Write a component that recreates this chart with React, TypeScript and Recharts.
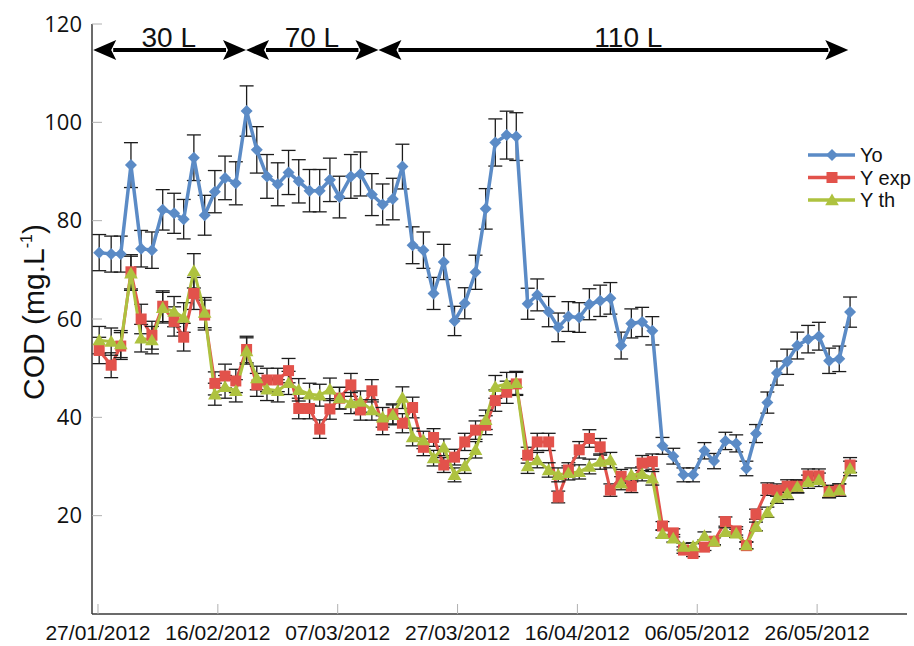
import React from 'react';
import { LineChart, Line, XAxis, YAxis, ErrorBar, ReferenceLine, Legend } from 'recharts';

// Sampling position of each point, in days after 27/01/2012
const sampleDays = [
  0.2, 2.2, 3.8, 5.5, 7.2, 9.0, 10.8, 12.7, 14.3, 16.0, 17.8, 19.5, 21.2, 23.0, 24.8, 26.5,
  28.2, 30.0, 31.8, 33.5, 35.3, 37.0, 38.7, 40.3, 42.2, 43.8, 45.7, 47.5, 49.2, 50.8, 52.5,
  54.3, 56.0, 57.7, 59.5, 61.2, 63.0, 64.7, 66.3, 68.2, 69.8, 71.7, 73.3, 75.2, 76.8, 78.5,
  80.3, 82.0, 83.8, 85.5, 87.3, 89.0, 90.8, 92.5, 94.2, 96.0, 97.7, 99.3, 101.2, 102.8, 104.7,
  106.5, 108.2, 109.8, 111.7, 113.3, 115.0, 116.7, 118.5, 120.3, 122.0, 123.7, 125.5,
];

const yoValues = [
  73.5, 73.2, 73.2, 91.3, 74.3, 74.0, 82.2, 81.5, 80.3, 92.8, 81.1, 85.9, 88.7, 87.6, 102.3, 94.4,
  89.0, 87.4, 89.8, 88.0, 86.1, 86.1, 88.3, 84.8, 89.0, 89.5, 85.3, 83.3, 84.4, 91.0, 75.0,
  74.0, 65.2, 71.6, 59.6, 63.2, 69.5, 82.4, 95.9, 97.4, 97.1, 63.1, 64.9, 61.5, 58.3, 60.5,
  60.3, 63.0, 63.7, 64.2, 54.6, 59.1, 59.4, 57.6, 34.2, 32.1, 28.3, 28.3, 33.2, 31.1, 35.2,
  34.7, 29.6, 36.7, 43.0, 49.0, 51.3, 54.6, 55.9, 56.5, 51.5, 51.9, 61.4,
];

const yExpValues = [
  53.6, 50.6, 54.5, 69.6, 60.0, 56.7, 62.6, 59.5, 56.3, 65.2, 60.8, 46.9, 48.4, 47.4, 53.8, 46.6,
  47.6, 47.6, 49.5, 41.8, 41.8, 37.6, 41.7, 43.9, 46.6, 41.5, 45.4, 38.4, 40.7, 38.8, 42.0,
  33.9, 35.9, 30.3, 31.9, 35.0, 37.4, 38.4, 43.4, 45.1, 46.8, 32.3, 35.0, 35.0, 23.8, 29.3,
  33.4, 35.7, 34.0, 25.2, 28.0, 26.0, 30.7, 31.0, 17.9, 16.5, 13.0, 12.3, 13.6, 14.8, 18.8,
  16.9, 13.9, 20.3, 25.4, 25.2, 26.0, 26.0, 28.1, 28.1, 24.9, 25.2, 30.3,
];

const yThValues = [
  55.7, 55.4, 54.9, 69.3, 56.1, 55.7, 62.3, 61.5, 60.3, 69.8, 61.3, 44.7, 46.2, 45.4, 53.5, 48.0,
  45.7, 45.4, 47.0, 45.6, 44.7, 44.5, 45.7, 43.9, 42.9, 43.2, 41.5, 40.0, 40.5, 44.0, 36.0,
  35.4, 31.7, 33.9, 28.3, 30.1, 33.4, 39.5, 46.2, 46.8, 47.0, 30.1, 31.3, 29.3, 28.3, 28.7,
  28.9, 30.0, 31.0, 31.3, 26.6, 28.3, 28.5, 27.6, 16.3, 15.4, 13.7, 13.8, 15.9, 14.8, 16.7,
  16.4, 14.0, 17.8, 20.7, 23.7, 24.5, 25.9, 26.9, 27.3, 24.9, 25.2, 29.6,
];

// Excel-style percentage error bars
const ERROR_FRACTION = 0.05;

const xTickDays = [0, 20, 40, 60, 80, 100, 120];
const xTickLabels = ['27/01/2012', '16/02/2012', '07/03/2012', '27/03/2012', '16/04/2012', '06/05/2012', '26/05/2012'];
const yTicks = [20, 40, 60, 80, 100, 120];

// Reactor volume phases (double arrows at the top), in days after 27/01/2012
const phaseLabels = ['30 L', '70 L', '110 L'];
const phaseStarts = [-0.8, 24.7, 46.8];
const phaseEnds = [24.7, 46.8, 125.2];
const phaseLabelAt = [11.8, 35.7, 88.5];
const PHASE_LEVEL = 114.7;

const BLUE = '#5b8bc6';
const RED = '#e2524b';
const GREEN = '#aec23f';
const SANS = "'Liberation Sans', Arial, sans-serif";
const TICK_FONT = "'Open Sans', 'Liberation Sans', sans-serif";

const data = sampleDays.map((day, i) => ({
  day,
  yo: yoValues[i],
  yoErr: yoValues[i] * ERROR_FRACTION,
  yexp: yExpValues[i],
  yexpErr: yExpValues[i] * ERROR_FRACTION,
  yth: yThValues[i],
  ythErr: yThValues[i] * ERROR_FRACTION,
}));

const diamondPath = (cx: number, cy: number, r: number) =>
  `M${cx},${cy - r} L${cx + r},${cy} L${cx},${cy + r} L${cx - r},${cy} Z`;
const trianglePath = (cx: number, cy: number, r: number) =>
  `M${cx},${cy - r} L${cx + r * 1.05},${cy + r * 0.8} L${cx - r * 1.05},${cy + r * 0.8} Z`;

const DiamondDot = (p: any) => {
  const { cx, cy, index } = p;
  if (cx == null || cy == null) return <g key={`yo-${index}`} />;
  return <path key={`yo-${index}`} d={diamondPath(cx, cy, 6)} fill={BLUE} />;
};
const SquareDot = (p: any) => {
  const { cx, cy, index } = p;
  if (cx == null || cy == null) return <g key={`ye-${index}`} />;
  return <rect key={`ye-${index}`} x={cx - 5.5} y={cy - 5.5} width={11} height={11} fill={RED} />;
};
const TriangleDot = (p: any) => {
  const { cx, cy, index } = p;
  if (cx == null || cy == null) return <g key={`yt-${index}`} />;
  return <path key={`yt-${index}`} d={trianglePath(cx, cy, 6.5)} fill={GREEN} />;
};

const makeArrow = (label: string, from: number, to: number, labelAt: number) => (props: any) => {
  const { x1, y1, x2 } = props;
  const y = y1;
  const head = 23;
  const half = 10;
  const lx = x1 + ((labelAt - from) / (to - from)) * (x2 - x1);
  return (
    <g>
      <line x1={x1 + head - 3} y1={y} x2={x2 - head + 3} y2={y} stroke="#000" strokeWidth={4} />
      <path d={`M${x1},${y} L${x1 + head},${y - half} L${x1 + head - 5},${y} L${x1 + head},${y + half} Z`} fill="#000" />
      <path d={`M${x2},${y} L${x2 - head},${y - half} L${x2 - head + 5},${y} L${x2 - head},${y + half} Z`} fill="#000" />
      <text x={lx} y={y - 3} textAnchor="middle" fontSize={28} fontFamily={SANS} fill="#111">
        {label}
      </text>
    </g>
  );
};

const YTitle = () => {
  const cx = 44;
  const cy = 312;
  return (
    <text
      x={cx}
      y={cy}
      transform={`rotate(-90 ${cx} ${cy})`}
      textAnchor="middle"
      fontSize={30}
      fontFamily={SANS}
      fill="#111"
    >
      COD (mg.L
      <tspan dy={-12} fontSize={16}>-1</tspan>
      <tspan dy={12}>)</tspan>
    </text>
  );
};

const legendItems = [
  { name: 'Yo', color: BLUE, kind: 'diamond' },
  { name: 'Y exp', color: RED, kind: 'square' },
  { name: 'Y th', color: GREEN, kind: 'triangle' },
];

const renderLegend = () => (
  <svg width={110} height={75}>
    {legendItems.map((it, i) => {
      const y = 15 + i * 22.5;
      const mx = 27;
      return (
        <g key={it.name}>
          <line x1={3} y1={y} x2={50} y2={y} stroke={it.color} strokeWidth={3.5} />
          {it.kind === 'diamond' && <path d={diamondPath(mx, y, 6)} fill={it.color} />}
          {it.kind === 'square' && <rect x={mx - 5.5} y={y - 5.5} width={11} height={11} fill={it.color} />}
          {it.kind === 'triangle' && <path d={trianglePath(mx, y, 6.5)} fill={it.color} />}
          <text x={55} y={y + 7} fontSize={20} fontFamily={SANS} fill="#111">
            {it.name}
          </text>
        </g>
      );
    })}
  </svg>
);

export default function App() {
  return (
    <div style={{ position: 'absolute', left: 0, top: 0, width: 914, height: 646, background: '#fff' }}>
      <LineChart width={914} height={646} data={data} margin={{ top: 24, right: 7, bottom: 0, left: 0 }}>
        <XAxis
          dataKey="day"
          type="number"
          domain={[-1, 135]}
          ticks={xTickDays}
          allowDataOverflow
          height={32}
          tickSize={-10}
          tickMargin={21}
          tickLine={{ stroke: '#b0b0b0', strokeWidth: 1 }}
          axisLine={{ stroke: '#3a3a3a', strokeWidth: 1.5 }}
          tickFormatter={(v: number) => xTickLabels[xTickDays.indexOf(v)] ?? ''}
          tick={{ fontSize: 21, fontFamily: SANS, fill: '#111' }}
          interval={0}
        />
        <YAxis
          type="number"
          domain={[0, 120]}
          ticks={yTicks}
          width={92}
          tickSize={-10}
          tickMargin={20}
          tickLine={{ stroke: '#b0b0b0', strokeWidth: 1 }}
          axisLine={{ stroke: '#3a3a3a', strokeWidth: 1.5 }}
          tick={{ fontSize: 22, fontFamily: TICK_FONT, fill: '#111' }}
          interval={0}
          label={<YTitle />}
        />
        <Legend
          layout="vertical"
          align="center"
          verticalAlign="middle"
          content={renderLegend}
          wrapperStyle={{ left: 805, top: 140, width: 110, height: 75 }}
        />
        {phaseLabels.map((label, i) => (
          <ReferenceLine
            key={label}
            segment={[
              { x: phaseStarts[i], y: PHASE_LEVEL },
              { x: phaseEnds[i], y: PHASE_LEVEL },
            ]}
            ifOverflow="visible"
            shape={makeArrow(label, phaseStarts[i], phaseEnds[i], phaseLabelAt[i])}
          />
        ))}
        <Line
          dataKey="yo"
          name="Yo"
          stroke={BLUE}
          strokeWidth={3.5}
          dot={DiamondDot}
          activeDot={false}
          isAnimationActive={false}
        >
          <ErrorBar dataKey="yoErr" direction="y" width={7} stroke="#1c1c1c" strokeWidth={1.3} />
        </Line>
        <Line
          dataKey="yexp"
          name="Y exp"
          stroke={RED}
          strokeWidth={3}
          dot={SquareDot}
          activeDot={false}
          isAnimationActive={false}
        >
          <ErrorBar dataKey="yexpErr" direction="y" width={7} stroke="#1c1c1c" strokeWidth={1.3} />
        </Line>
        <Line
          dataKey="yth"
          name="Y th"
          stroke={GREEN}
          strokeWidth={3}
          dot={TriangleDot}
          activeDot={false}
          isAnimationActive={false}
        >
          <ErrorBar dataKey="ythErr" direction="y" width={7} stroke="#1c1c1c" strokeWidth={1.3} />
        </Line>
      </LineChart>
    </div>
  );
}
